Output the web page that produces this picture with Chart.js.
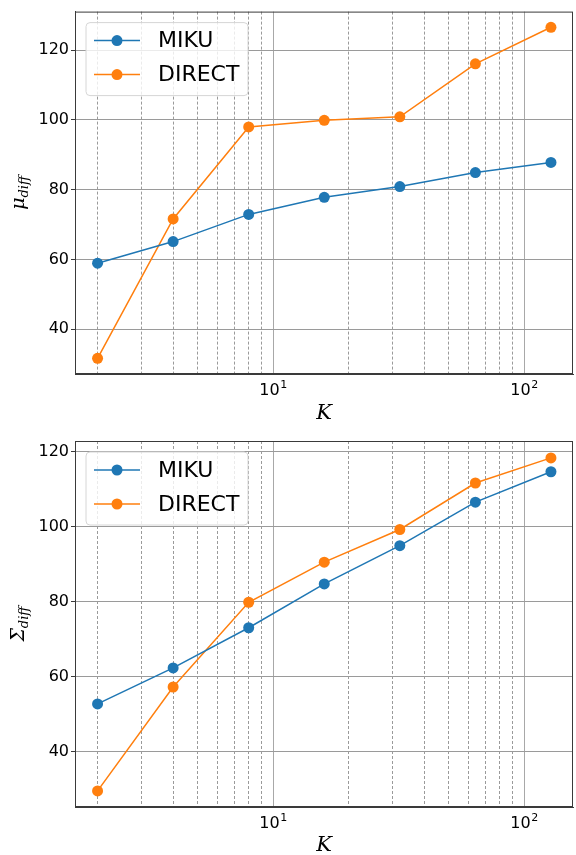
<!DOCTYPE html>
<html>
<head>
<meta charset="utf-8">
<script src="https://cdn.jsdelivr.net/npm/chart.js@4/dist/chart.umd.min.js"></script>
<style>
  html, body { margin: 0; padding: 0; background: #fff; }
  #wrap { position: relative; width: 576px; height: 855px; }
  canvas { position: absolute; left: 0; }
</style>
</head>
<body>
<div id="wrap">
  <canvas id="muChart" width="576" height="428" style="top:0"></canvas>
  <canvas id="sigmaChart" width="576" height="427" style="top:428px"></canvas>
</div>
<script>
// K values on the x axis (log scale)
const kValues = [2, 4, 8, 16, 32, 64, 128];

// top panel: mu_diff
const muMiku = [58.9, 65.1, 72.9, 77.8, 80.9, 84.9, 87.8];
const muDirect = [31.6, 71.6, 98.0, 99.9, 100.9, 116.1, 126.6];

// bottom panel: Sigma_diff
const sigmaMiku = [52.8, 62.4, 73.1, 84.8, 95.0, 106.6, 114.7];
const sigmaDirect = [29.6, 57.3, 79.9, 90.6, 99.3, 111.7, 118.4];

const yTicks = [40, 60, 80, 100, 120];
const xGrid = [2, 3, 4, 5, 6, 7, 8, 9, 10, 20, 30, 40, 50, 60, 70, 80, 90, 100];
const xDecades = [10, 100]; // labelled as 10^1, 10^2

const BLUE = '#1f77b4';
const ORANGE = '#ff7f0e';
const TICK_FONT = { family: 'DejaVu Sans', size: 16 };

function pts(ys) {
    return kValues.map((k, i) => ({ x: k, y: ys[i] }));
}

function series(label, ys, color) {
    return {
        label: label,
        data: pts(ys),
        borderColor: color,
        backgroundColor: color,
        borderWidth: 1.5,
        pointRadius: 5.5,
        pointHoverRadius: 5.5,
        pointBorderWidth: 0,
        tension: 0
    };
}

// legend box drawn inside the plot, matplotlib style
const boxLegend = {
    id: 'boxLegend',
    afterDraw(chart) {
        const ctx = chart.ctx;
        const a = chart.chartArea;
        const x0 = a.left + 11, y0 = a.top + 11, w = 162, h = 73;
        ctx.save();
        ctx.beginPath();
        ctx.roundRect(x0, y0, w, h, 4);
        ctx.fillStyle = 'rgba(255,255,255,0.8)';
        ctx.fill();
        ctx.strokeStyle = '#d6d6d6';
        ctx.lineWidth = 1;
        ctx.stroke();
        chart.data.datasets.forEach((ds, i) => {
            const cy = y0 + 18 + i * 34;
            ctx.strokeStyle = ds.borderColor;
            ctx.lineWidth = 1.5;
            ctx.beginPath();
            ctx.moveTo(x0 + 8, cy);
            ctx.lineTo(x0 + 54, cy);
            ctx.stroke();
            ctx.fillStyle = ds.borderColor;
            ctx.beginPath();
            ctx.arc(x0 + 31, cy, 5.5, 0, Math.PI * 2);
            ctx.fill();
            ctx.fillStyle = '#000';
            ctx.font = '22px "DejaVu Sans"';
            ctx.textBaseline = 'middle';
            ctx.fillText(ds.label, x0 + 72, cy + 1);
        });
        ctx.restore();
    }
};

// axis titles with italic subscript, and 10^n tick labels
const axisTitles = {
    id: 'axisTitles',
    afterDraw(chart) {
        const ctx = chart.ctx;
        const a = chart.chartArea;
        const o = chart.options.plugins.axisTitles;
        const xs = chart.scales.x;
        ctx.save();
        ctx.fillStyle = '#000';
        ctx.textBaseline = 'alphabetic';
        ctx.textAlign = 'left';
        // decade labels
        xDecades.forEach(v => {
            const exp = String(Math.round(Math.log10(v)));
            ctx.font = '16px "DejaVu Sans"';
            const bw = ctx.measureText('10').width;
            ctx.font = '11px "DejaVu Sans"';
            const ew = ctx.measureText(exp).width;
            const px = xs.getPixelForValue(v) - (bw + ew) / 2;
            const base = a.bottom + 21;
            ctx.font = '16px "DejaVu Sans"';
            ctx.fillText('10', px, base);
            ctx.font = '11px "DejaVu Sans"';
            ctx.fillText(exp, px + bw + 0.5, base - 7);
        });
        // x label
        ctx.font = 'italic 21px "DejaVu Serif"';
        ctx.textAlign = 'center';
        ctx.fillText('K', (a.left + a.right) / 2, a.bottom + o.kOffset);
        // y label, rotated
        ctx.translate(o.yX, (a.top + a.bottom) / 2);
        ctx.rotate(-Math.PI / 2);
        ctx.textAlign = 'left';
        ctx.font = 'italic 19px "DejaVu Serif"';
        const mainW = ctx.measureText(o.symbol).width;
        ctx.font = 'italic 13px "DejaVu Serif"';
        const subW = ctx.measureText('diff').width;
        const start = -(mainW + subW) / 2;
        ctx.font = 'italic 19px "DejaVu Serif"';
        ctx.fillText(o.symbol, start, 0);
        ctx.font = 'italic 13px "DejaVu Serif"';
        ctx.fillText('diff', start + mainW, 4);
        ctx.restore();
    }
};

// frame lines like matplotlib spines
const frame = {
    id: 'frame',
    afterDraw(chart) {
        const a = chart.chartArea, ctx = chart.ctx;
        ctx.save();
        ctx.strokeStyle = '#3a3a3a';
        ctx.lineWidth = 1;
        ctx.strokeRect(a.left + 0.5, a.top + 0.5, a.right - a.left - 1, a.bottom - a.top - 1);
        ctx.restore();
    }
};

function makeChart(id, miku, direct, yMin, yMax, xAxisHeight, topPad, symbol, yX, kOffset) {
    return new Chart(document.getElementById(id), {
        type: 'line',
        data: { datasets: [series('MIKU', miku, BLUE), series('DIRECT', direct, ORANGE)] },
        plugins: [boxLegend, axisTitles, frame],
        options: {
            responsive: false,
            animation: false,
            devicePixelRatio: 1,
            layout: { autoPadding: false, padding: { left: 0, right: 3, top: topPad, bottom: 0 } },
            plugins: {
                legend: { display: false },
                tooltip: { enabled: false },
                axisTitles: { symbol: symbol, yX: yX, kOffset: kOffset }
            },
            scales: {
                x: {
                    type: 'logarithmic',
                    min: 1.626,
                    max: 156.7,
                    afterBuildTicks: s => { s.ticks = xGrid.map(v => ({ value: v })); },
                    afterFit: s => { s.height = xAxisHeight; },
                    ticks: { autoSkip: false, maxRotation: 0, callback: () => '' },
                    grid: {
                        drawTicks: false,
                        lineWidth: 1,
                        color: c => (c.tick && xDecades.includes(c.tick.value)) ? '#a8a8a8' : '#9a9a9a'
                    },
                    border: {
                        color: '#3a3a3a',
                        width: 1,
                        dash: c => (c.tick && !xDecades.includes(c.tick.value)) ? [3, 2] : []
                    }
                },
                y: {
                    min: yMin,
                    max: yMax,
                    afterBuildTicks: s => { s.ticks = yTicks.map(v => ({ value: v })); },
                    afterFit: s => { s.width = 75; },
                    ticks: { padding: 2, color: '#000', font: TICK_FONT },
                    grid: {
                        color: '#9a9a9a',
                        lineWidth: 1,
                        drawTicks: true,
                        tickLength: 4,
                        tickColor: '#3a3a3a'
                    },
                    border: { color: '#3a3a3a', width: 1 }
                }
            }
        }
    });
}

makeChart('muChart', muMiku, muDirect, 27.1, 131.1, 54, 10, '\u03BC', 24, 45);
makeChart('sigmaChart', sigmaMiku, sigmaDirect, 25.3, 122.9, 48, 13, '\u03A3', 24, 44);
</script>
</body>
</html>
